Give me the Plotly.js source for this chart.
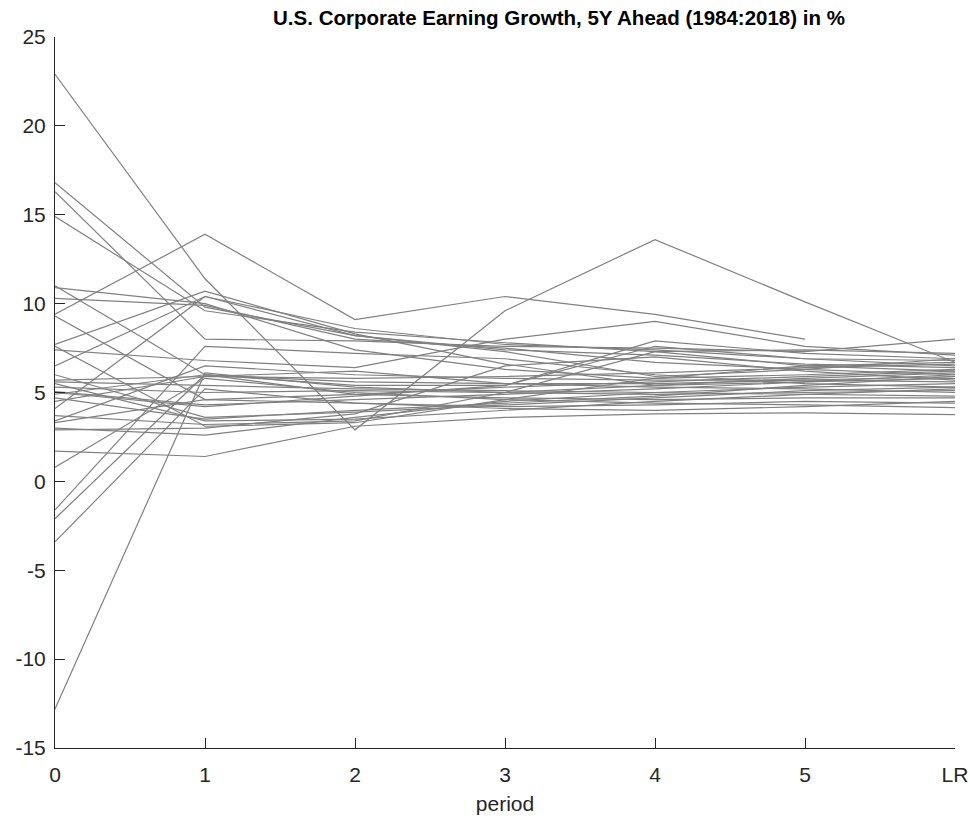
<!DOCTYPE html>
<html>
<head>
<meta charset="utf-8">
<script src="https://cdn.plot.ly/plotly-3.0.1.min.js"></script>
<style>html,body{margin:0;padding:0;background:#fff}#chart{width:970px;height:822px}</style>
</head>
<body>
<div id="chart"></div>
<script>
const periods = [0, 1, 2, 3, 4, 5, 6];
const periodLabels = ['0', '1', '2', '3', '4', '5', 'LR'];
const yTickVals = [-15, -10, -5, 0, 5, 10, 15, 20, 25];
const yTickLabels = ['-15', '-10', '-5', '0', '5', '10', '15', '20', '25'];
const years = [];
for (let y = 1984; y <= 2018; y++) years.push(y);

// growth path per vintage: [0, 1, 2, 3, 4, 5, LR]
const growth = [
  [22.9, 11.4, 2.9, 9.6, 13.6, 10.1, 6.7],
  [9.4, 13.9, 9.1, 10.4, 9.4, 8.0, null],
  [16.8, 9.8, 8.2, 7.4, 7.1, 6.6, 6.4],
  [16.3, 8.0, 7.9, 7.6, 7.5, 7.3, 8.0],
  [14.9, 9.6, 8.4, 7.8, 7.3, 6.5, 6.2],
  [11.0, 6.0, 5.6, 5.5, 5.3, 5.2, 5.0],
  [10.3, 9.9, 8.0, 7.5, 6.7, 6.3, 6.0],
  [7.7, 10.7, 8.3, 6.6, 5.4, 5.6, 5.8],
  [7.4, 6.8, 6.4, 8.0, 9.0, 7.6, 7.1],
  [6.5, 10.4, 8.6, 7.7, 7.4, 6.9, 6.5],
  [5.7, 5.9, 5.8, 5.9, 6.1, 6.4, 6.6],
  [5.6, 5.4, 5.2, 5.1, 5.0, 4.9, 4.8],
  [5.05, 4.3, 4.6, 4.9, 5.2, 5.6, 6.0],
  [4.9, 6.0, 5.4, 5.4, 7.6, 6.9, 6.8],
  [4.7, 3.5, 4.0, 4.4, 4.8, 5.4, 5.9],
  [4.1, 10.4, 8.2, 7.3, 5.9, 6.3, 6.9],
  [3.7, 3.2, 3.4, 5.0, 7.3, 7.4, 7.2],
  [3.4, 6.5, 6.0, 5.8, 5.7, 5.7, 5.6],
  [3.0, 2.6, 3.6, 4.5, 5.0, 5.3, 5.5],
  [1.7, 1.4, 3.1, 3.6, 3.8, 3.85, 3.75],
  [0.8, 5.8, 5.0, 4.6, 4.4, 4.3, 4.15],
  [-1.6, 7.6, 7.2, 6.9, 6.0, 5.5, 5.3],
  [-2.1, 6.0, 4.9, 4.7, 4.6, 4.7, 4.7],
  [-3.4, 5.2, 4.4, 4.2, 4.3, 4.5, 4.4],
  [-12.8, 6.1, 5.3, 5.0, 5.4, 5.8, 6.1],
  [10.9, 10.0, 7.4, 6.3, 5.8, 6.0, 6.3],
  [9.3, 4.6, 4.9, 5.3, 5.6, 5.9, 6.2],
  [7.6, 3.1, 3.3, 4.6, 5.8, 6.5, 6.7],
  [5.5, 3.4, 3.5, 4.0, 4.5, 4.9, 5.2],
  [5.0, 4.2, 4.8, 5.4, 7.9, 7.2, 6.9],
  [4.5, 5.9, 6.2, 5.5, 5.5, 5.7, 5.9],
  [3.3, 4.6, 4.4, 4.1, 4.0, 4.2, 4.5],
  [2.9, 3.0, 3.8, 6.5, 7.0, 6.2, 5.7],
  [6.0, 3.6, 3.9, 4.3, 4.7, 5.1, 5.3],
  [5.3, 5.0, 5.1, 5.0, 4.9, 5.0, 5.1]
];

const traces = growth.map((vals, i) => ({
  type: 'scatter',
  mode: 'lines',
  x: periods,
  y: vals,
  name: String(years[i]),
  line: {color: '#808080', width: 1.2},
  hoverinfo: 'skip',
  connectgaps: false
}));

const axisFont = {family: 'Liberation Sans, Arial, sans-serif', size: 21, color: '#262626'};

const layout = {
  width: 970,
  height: 822,
  margin: {l: 55, r: 15, t: 37, b: 74},
  paper_bgcolor: '#ffffff',
  plot_bgcolor: '#ffffff',
  showlegend: false,
  font: axisFont,
  title: {
    text: '<b>U.S. Corporate Earning Growth, 5Y Ahead (1984:2018) in %</b>',
    font: {family: 'Liberation Sans, Arial, sans-serif', size: 20.5, color: '#000000'},
    x: 0.56, xref: 'paper', xanchor: 'center',
    y: 0.978, yref: 'container', yanchor: 'middle'
  },
  xaxis: {
    range: [0, 6],
    tickvals: periods,
    ticktext: periodLabels,
    ticks: 'inside',
    ticklen: 10,
    tickwidth: 1,
    tickcolor: '#262626',
    ticklabelstandoff: 8,
    showline: true,
    linecolor: '#262626',
    linewidth: 1,
    showgrid: false,
    zeroline: false,
    tickfont: axisFont,
    title: {text: 'period', font: axisFont, standoff: 11}
  },
  yaxis: {
    range: [-15, 25],
    tickvals: yTickVals,
    ticktext: yTickLabels,
    ticks: 'inside',
    ticklen: 10,
    tickwidth: 1,
    tickcolor: '#262626',
    ticklabelstandoff: 4,
    showline: true,
    linecolor: '#262626',
    linewidth: 1,
    showgrid: false,
    zeroline: false,
    tickfont: axisFont
  }
};

Plotly.newPlot('chart', traces, layout, {displayModeBar: false, staticPlot: true});
</script>
</body>
</html>
